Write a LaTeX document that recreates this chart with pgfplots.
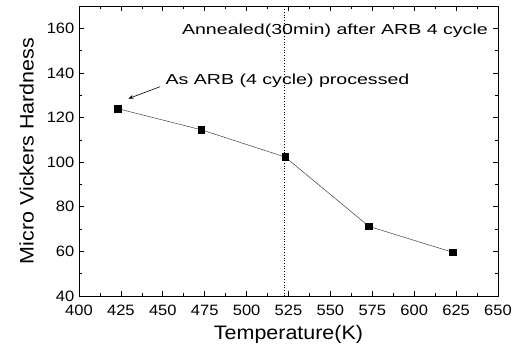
\documentclass[border=0pt]{standalone}
\usepackage{fontspec}
\setmainfont{Liberation Sans}[FakeStretch=1.1]
\newfontfamily\annfont{Liberation Sans}[FakeStretch=1.35]
\usepackage{pgfplots}
\usetikzlibrary{arrows.meta}
\pgfplotsset{compat=1.18}
\begin{document}
\begin{tikzpicture}
\begin{axis}[
  scale only axis, width=419pt, height=290pt,
  xmin=400, xmax=650, ymin=40, ymax=170,
  xtick={400,425,...,650}, ytick={40,60,...,160},
  minor x tick num=1, minor y tick num=1,
  tick align=inside, major tick length=5pt, minor tick length=3pt,
  tick style={line width=0.7pt, black},
  ticklabel style={font=\fontsize{15}{15}\selectfont, inner sep=0.5pt},
  yticklabel style={xshift=-4pt},
  xticklabel style={yshift=-8pt},
  /pgf/number format/assume math mode=true,
  /pgf/number format/1000 sep={},
  xlabel={Temperature(K)}, ylabel={Micro Vickers Hardness},
  label style={font=\fontsize{19.5}{20}\selectfont},
  xlabel style={yshift=-6pt},
  ylabel style={yshift=9pt},
  axis line style={line width=0.9pt},
  clip=false,
]
\coordinate (O) at (rel axis cs:0,0);
\addplot[black!75, line width=0.5pt, mark=square*, mark size=3.3pt,
  mark options={solid, fill=black, draw=black}]
  coordinates {(423,124) (473,114.5) (523,102.3) (573,71.2) (623,59.6)};
\draw[dotted, line width=0.7pt] (axis cs:522.5,40) -- (axis cs:522.5,170);
\node[font=\annfont\fontsize{14.5}{15}\selectfont, anchor=center] at (axis cs:552.7,159) {Annealed(30min) after ARB 4 cycle};
\node[font=\annfont\fontsize{14.5}{15}\selectfont, anchor=center] at (axis cs:524.4,136.6) {As ARB (4 cycle) processed};
\draw[-{Stealth[length=5pt,width=4pt]}, line width=0.6pt] (axis cs:448.3,133.8) -- (axis cs:429.5,128.5);
\end{axis}
\path (O) ++(-79pt,-48pt) rectangle ++(518pt,344pt);
\end{tikzpicture}
\end{document}
